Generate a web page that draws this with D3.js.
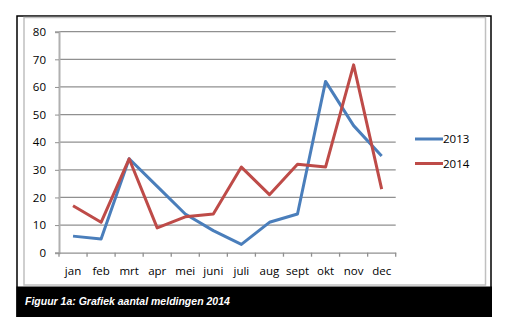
<!DOCTYPE html>
<html><head><meta charset="utf-8">
<script src="https://cdn.jsdelivr.net/npm/d3@7"></script>
<style>body{margin:0;background:#fff}</style>
</head><body>
<script>
const months = ["jan","feb","mrt","apr","mei","juni","juli","aug","sept","okt","nov","dec"];
const series2013 = [6,5,34,24,14,8,3,11,14,62,46,35];
const series2014 = [17,11,34,9,13,14,31,21,32,31,68,23];
const seriesNames = ["2013","2014"];
const yTicks = [0,10,20,30,40,50,60,70,80];
const caption = "Figuur 1a: Grafiek aantal meldingen 2014";

const colors = ["#4a7ebb","#be4b48"];
const W = 508, H = 331;
const svg = d3.select("body").append("svg").attr("width",W).attr("height",H);

// outer frame
svg.append("path").attr("d","M17,317 V16 H491 V317").attr("fill","none").attr("stroke","#000").attr("stroke-width",1.5);
svg.append("rect").attr("x",24).attr("y",17.5).attr("width",461.5).attr("height",267.5)
  .attr("fill","#fff").attr("stroke","#c0c0c0").attr("stroke-width",1.5);
svg.append("rect").attr("x",16.5).attr("y",286.5).attr("width",475.5).attr("height",30.5).attr("fill","#000");
svg.append("text").attr("x",25).attr("y",305).text(caption)
  .attr("fill","#fff").attr("font-family","Liberation Sans, Arial").attr("font-weight","bold")
  .attr("font-style","italic").attr("font-size",10.5);

const x = d3.scaleBand().domain(months).range([59,395.7]);
const y = d3.scaleLinear().domain([0,80]).range([252.7,31.7]);
const font = "Open Sans";

// gridlines
svg.append("g").selectAll("line").data(yTicks.filter(d=>d>0)).join("line")
  .attr("x1",59).attr("x2",395.7).attr("y1",d=>y(d)).attr("y2",d=>y(d))
  .attr("stroke","#909090").attr("stroke-width",1.3);

// y axis
const yAxis = svg.append("g").attr("transform","translate(59,0)")
  .call(d3.axisLeft(y).tickValues(yTicks).tickSize(4).tickPadding(9));
yAxis.select(".domain").attr("stroke","#b0b0b0").attr("stroke-width",2);
yAxis.selectAll(".tick line").attr("stroke","#909090");
yAxis.selectAll("text").attr("font-family",font).attr("font-size",11.5).attr("fill","#000");

// x axis
const xAxis = svg.append("g").attr("transform",`translate(0,${y(0)})`)
  .call(d3.axisBottom(x).tickSize(0).tickPadding(14));
xAxis.select(".domain").attr("stroke","#909090").attr("stroke-width",1.3);
xAxis.selectAll("text").attr("font-family",font).attr("font-size",11.5).attr("fill","#000");
// tick marks at band boundaries
const bounds = months.map(m=>x(m)).concat([x.range()[1]]);
svg.append("g").selectAll("line").data(bounds).join("line")
  .attr("x1",d=>d).attr("x2",d=>d).attr("y1",y(0)).attr("y2",y(0)+4)
  .attr("stroke","#909090").attr("stroke-width",1.3);

// lines
const line = d3.line().x((d,i)=>x(months[i])+x.bandwidth()/2).y(d=>y(d));
[series2013, series2014].forEach((s,k)=>{
  svg.append("path").datum(s).attr("d",line).attr("fill","none")
    .attr("stroke",colors[k]).attr("stroke-width",3).attr("stroke-linejoin","round");
});

// legend
const leg = svg.append("g");
seriesNames.forEach((n,k)=>{
  const ly = 139 + k*24.5;
  leg.append("line").attr("x1",415).attr("x2",443).attr("y1",ly).attr("y2",ly)
    .attr("stroke",colors[k]).attr("stroke-width",3);
  leg.append("text").attr("x",443).attr("y",ly).attr("dy","0.35em").text(n)
    .attr("font-family",font).attr("font-size",11.5).attr("fill","#000");
});
</script>
</body></html>
